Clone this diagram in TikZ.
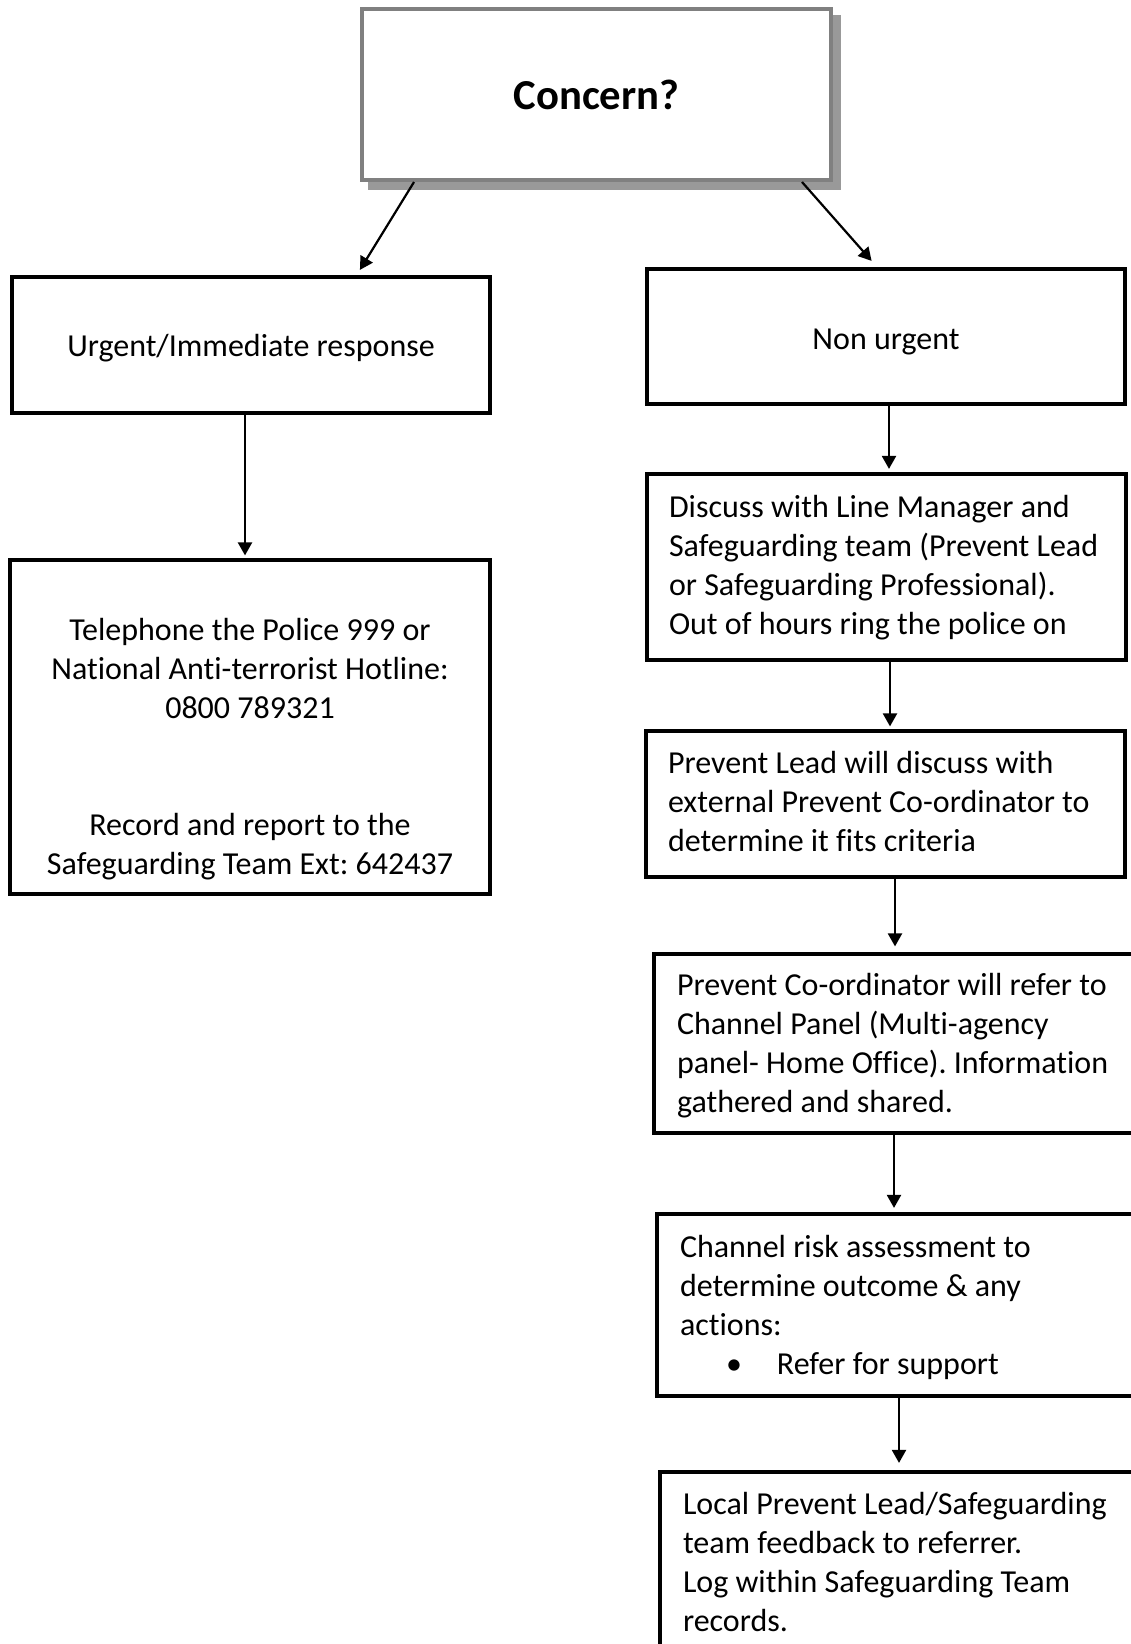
\documentclass[tikz,border=0pt]{standalone}
\usepackage{fontspec}
\setmainfont{Carlito}[Ligatures={NoCommon}]
\usetikzlibrary{arrows.meta,calc}
\definecolor{bordergray}{HTML}{808080}
\definecolor{shadowgray}{HTML}{999999}
\frenchspacing
\newcommand{\lefttext}[3]{\raisebox{-#2}[\height][\depth]{\makebox[#1][l]{\begin{tabular}{@{}l@{}}#3\end{tabular}}}}
\begin{document}
\begin{tikzpicture}[x=1pt,y=-1pt,
  box/.style={draw=black, line width=3.2pt, fill=white, rectangle, inner sep=0pt,
    font=\fontsize{32}{39}\selectfont\frenchspacing},
  lbox/.style={box},
  cbox/.style={box, align=center},
  topbox/.style={draw=bordergray, line width=4pt, fill=white, rectangle, inner sep=0pt,
    font=\fontsize{42.7}{52}\selectfont\bfseries},
  shadowbox/.style={fill=shadowgray, rectangle, inner sep=0pt},
  arr/.style={line width=2.2pt, -{Triangle[length=13pt,width=14pt]}}
]
\useasboundingbox (0,0) rectangle (1131,1644);
\fill[white] (0,0) rectangle (1131,1644);
\clip (0,0) rectangle (1131,1644);

% top box with shadow
\node[shadowbox, minimum width=473pt, minimum height=175pt] (concernshadow) at (604.5,102.5) {};
\node[topbox, minimum width=469pt, minimum height=171pt] (concern) at (596.5,94.5) {Concern?};

% left branch
\node[cbox, minimum width=478pt, minimum height=136pt, text height=27pt, text depth=5pt] (urgent) at (251,345) {Urgent/Immediate response};
\node[cbox, minimum width=480pt, minimum height=334pt] (tele) at (250,727)
  {\strut\\Telephone the Police 999 or\\National Anti-terrorist Hotline:\\0800 789321\\\strut\\\strut\\Record and report to the\\Safeguarding Team Ext: 642437};

% right branch
\node[cbox, minimum width=478pt, minimum height=135pt, text height=30pt, text depth=5pt] (nonurgent) at (886,336.5) {Non urgent};
\node[lbox, minimum width=479pt, minimum height=186pt] (discuss) at (886.5,567)
  {\lefttext{435pt}{1pt}{Discuss with Line Manager and\\Safeguarding team (Prevent Lead\\or Safeguarding Professional).\\Out of hours ring the police on}};
\node[lbox, minimum width=479pt, minimum height=146pt] (plead) at (885.5,804)
  {\lefttext{435pt}{1pt}{Prevent Lead will discuss with\\external Prevent Co-ordinator to\\determine it fits criteria}};
\node[lbox, minimum width=485pt, minimum height=179pt] (pco) at (896.5,1043.5)
  {\lefttext{439pt}{3pt}{Prevent Co-ordinator will refer to\\Channel Panel (Multi-agency\\panel- Home Office). Information\\gathered and shared.}};
\node[lbox, minimum width=485pt, minimum height=182pt] (channel) at (899.5,1305)
  {\lefttext{439pt}{3pt}{Channel risk assessment to\\determine outcome \& any\\actions:\\\hspace*{46pt}\makebox[51pt][l]{•}Refer for support}};
\node[lbox, minimum width=485pt, minimum height=182pt] (local) at (902.5,1563)
  {\lefttext{439pt}{2pt}{Local Prevent Lead/Safeguarding\\team feedback to referrer.\\Log within Safeguarding Team\\records.}};

% connectors
\draw[arr] ($(concern.south west)+(54,0)$) -- ($(urgent.north west)+(349.5,-5.5)$);
\draw[arr] ($(concern.south east)+(-31,0)$) -- ($(nonurgent.north east)+(-255,-6.5)$);
\draw[arr] ([xshift=-6pt]urgent.south) -- ([xshift=-5pt,yshift=3pt]tele.north);
\draw[arr] ([xshift=3pt]nonurgent.south) -- ([xshift=2.5pt,yshift=3.5pt]discuss.north);
\draw[arr] ([xshift=3.5pt]discuss.south) -- ([xshift=4.5pt,yshift=3pt]plead.north);
\draw[arr] ([xshift=9.5pt]plead.south) -- ([xshift=-1.5pt,yshift=6pt]pco.north);
\draw[arr] ([xshift=-2.5pt]pco.south) -- ([xshift=-5.5pt,yshift=4.5pt]channel.north);
\draw[arr] ([xshift=-0.5pt]channel.south) -- ([xshift=-3.5pt,yshift=7.5pt]local.north);
\end{tikzpicture}
\end{document}
